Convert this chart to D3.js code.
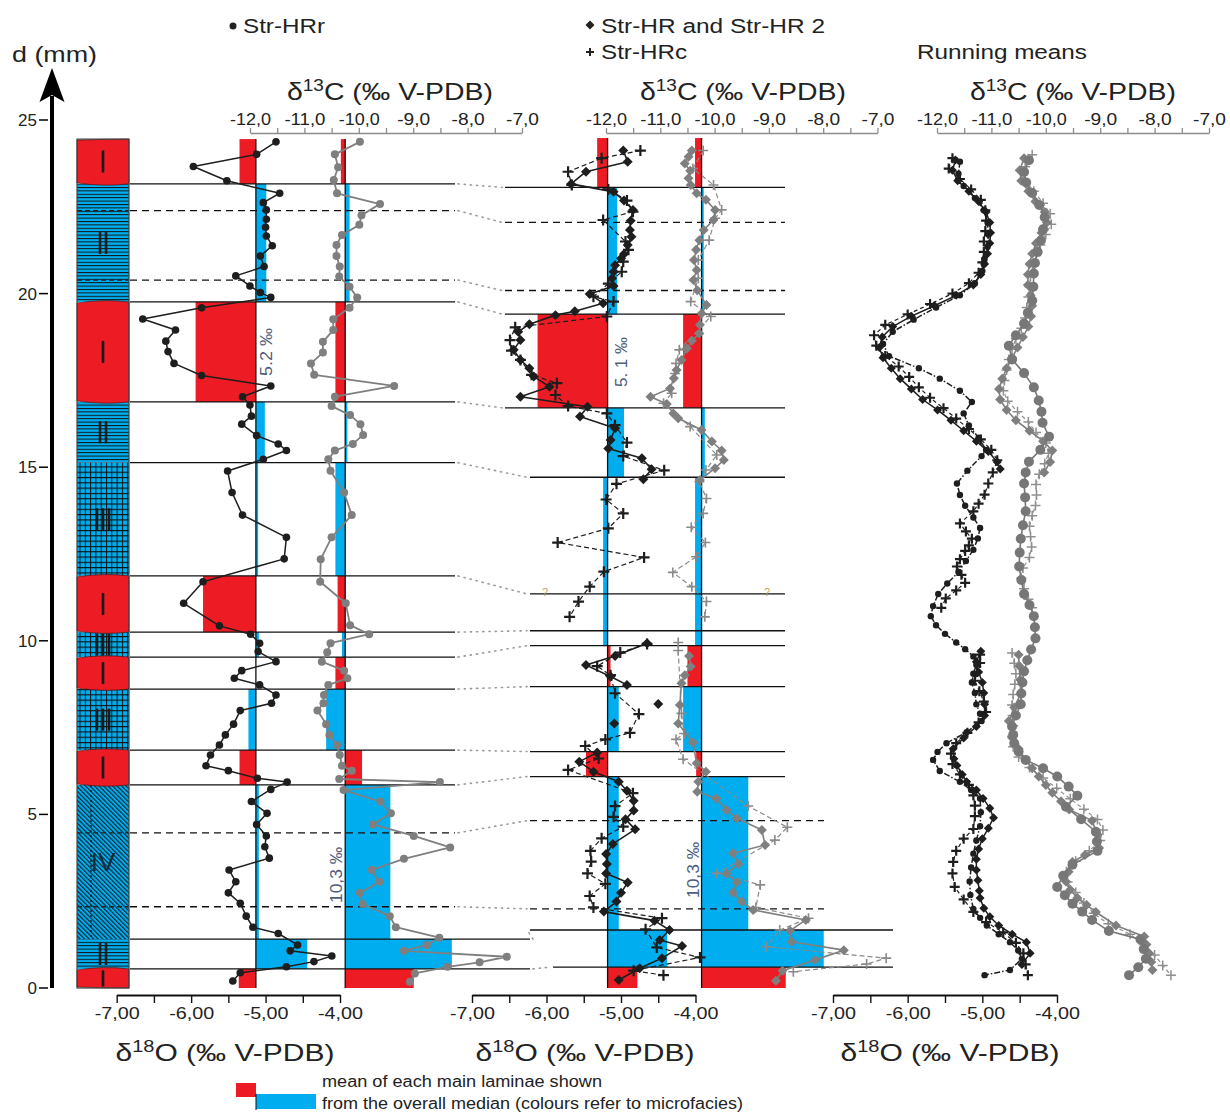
<!DOCTYPE html>
<html>
<head>
<meta charset="utf-8">
<script src="https://cdn.jsdelivr.net/npm/d3@7"></script>
<style>
  body { margin: 0; background: #fff; }
  svg text { font-family: 'Liberation Sans', Arial, sans-serif; }
</style>
</head>
<body>
<svg id="chart" width="1230" height="1115"></svg>
<script>
// Stable-isotope profiles of the laminated speleothem (depth in mm)

const depthTicks = [0, 5, 10, 15, 20, 25];
const o18Ticks = [-7, -6.5, -6, -5.5, -5, -4.5, -4];
const c13Ticks = [-12, -11.5, -11, -10.5, -10, -9.5, -9, -8.5, -8, -7.5, -7];

// microfacies column: [top, bottom, facies]
const microfacies = [[24.45,23.16,'I'],[23.16,19.76,'II'],[19.76,16.88,'I'],[16.88,15.13,'II'],[15.13,11.87,'III'],
  [11.87,10.25,'I'],[10.25,9.53,'III'],[9.53,8.61,'I'],[8.61,6.85,'III'],[6.85,5.85,'I'],[5.85,1.41,'IV'],[1.41,0.55,'II'],[0.55,0,'I']];

// lamina boundaries: [depth, 's' main / 'd' sub-lamina]
const p1Bounds = [[23.16,'s'],[22.39,'d'],[20.39,'d'],[19.76,'s'],[16.88,'s'],[15.13,'s'],[11.87,'s'],[10.25,'s'],
  [9.53,'s'],[8.61,'s'],[6.85,'s'],[5.85,'s'],[4.47,'d'],[2.34,'d'],[1.41,'s'],[0.55,'s']];
const p2Bounds = [[23.06,'s'],[22.05,'d'],[20.09,'d'],[19.41,'s'],[16.71,'s'],[14.71,'s'],[11.35,'s'],[10.29,'s'],
  [9.86,'s'],[8.68,'s'],[6.81,'s'],[6.09,'s'],[4.82,'d'],[2.28,'d'],[1.67,'s'],[0.60,'s']];

// laminae used for the mean bars and their deviation from the overall median
const p1Laminae = microfacies;
const p1MedO = -5.13, p1MedC = -10.25;
const p1DevO = [-0.22, 0.14, -0.81, 0.12, 0.03, -0.71, 0.04, 0.0, -0.10, -0.22, 0.04, 0.69, -0.23];
const p1DevC = [-0.08, 0.08, -0.18, 0.04, -0.18, -0.14, -0.06, -0.18, -0.35, 0.31, 0.83, 1.96, 1.26];
const p2Laminae = [[24.48,23.06,'I'],[23.06,19.41,'II'],[19.41,16.71,'I'],[16.71,14.71,'II'],[14.71,11.35,'III'],
  [11.35,10.29,'III'],[10.29,9.86,'III'],[9.86,8.68,'I'],[8.68,6.81,'III'],[6.81,6.09,'I'],[6.09,1.67,'IV'],[1.67,0.60,'II'],[0.60,0,'I']];
const p2MedO = -5.18, p2MedC = -10.24;
const p2DevO = [-0.14, 0.13, -0.94, 0.22, -0.06, -0.06, -0.06, 0.04, 0.15, -0.29, 0.15, 0.80, 0.40];
const p2DevC = [-0.12, 0.04, -0.34, 0.06, -0.12, -0.12, -0.12, -0.26, -0.34, -0.10, 0.86, 2.25, 1.55];

// Str-HRr: [depth, value]
const hrrO = [[24.37,-4.86],[24.01,-5.12],[23.66,-5.97],[23.25,-5.52],[22.89,-4.81],[22.62,-5.03],[22.41,-4.99],[22.14,-4.99],
  [21.91,-5.00],[21.66,-4.99],[21.38,-4.91],[21.08,-5.07],[20.78,-5.02],[20.51,-5.40],[20.22,-5.21],[20.03,-5.07],[19.89,-4.93],
  [19.59,-5.86],[19.27,-6.65],[18.95,-6.21],[18.63,-6.34],[18.33,-6.31],[17.99,-6.23],[17.64,-5.86],[17.34,-4.93],[17.03,-5.31],
  [16.79,-5.21],[16.47,-5.19],[16.24,-5.32],[15.91,-5.12],[15.67,-4.83],[15.48,-4.72],[15.23,-5.03],[14.89,-5.51],[14.27,-5.45],
  [13.62,-5.31],[12.98,-4.72],[12.36,-4.75],[11.70,-5.84],[11.08,-6.10],[10.43,-5.62],[10.19,-5.20],[9.93,-5.08],[9.69,-5.10],
  [9.40,-4.86],[9.14,-5.32],[8.92,-5.42],[8.73,-5.08],[8.44,-4.86],[8.20,-4.92],[7.99,-5.34],[7.60,-5.43],[7.29,-5.54],[7.00,-5.62],
  [6.71,-5.74],[6.40,-5.80],[6.26,-5.50],[6.04,-5.11],[5.93,-4.71],[5.72,-4.93],[5.37,-5.19],[5.03,-4.98],[4.71,-5.12],[4.38,-4.99],
  [4.07,-5.01],[3.74,-4.95],[3.40,-5.49],[3.06,-5.40],[2.74,-5.50],[2.44,-5.34],[2.07,-5.26],[1.75,-5.17],[1.57,-4.83],[1.24,-4.57],
  [1.07,-4.67],[0.92,-4.11],[0.76,-4.35],[0.61,-4.72],[0.44,-5.34],[0.20,-5.44]];
const hrrC = [[24.37,-9.98],[24.01,-10.44],[23.64,-10.38],[23.27,-10.46],[22.89,-10.40],[22.58,-9.61],[22.26,-9.95],[21.98,-9.99],
  [21.69,-10.31],[21.40,-10.41],[21.08,-10.41],[20.78,-10.35],[20.49,-10.36],[20.20,-10.17],[19.89,-10.03],[19.59,-10.17],
  [19.26,-10.47],[18.95,-10.47],[18.61,-10.66],[18.30,-10.66],[17.99,-10.88],[17.66,-10.82],[17.34,-9.35],[17.03,-10.44],
  [16.76,-10.50],[16.50,-10.16],[16.24,-9.97],[15.93,-9.92],[15.67,-10.11],[15.48,-10.44],[15.23,-10.56],[14.90,-10.52],
  [14.27,-10.27],[13.62,-10.13],[12.98,-10.50],[12.35,-10.70],[11.70,-10.71],[11.08,-10.24],[10.45,-10.16],[10.19,-9.81],
  [9.93,-10.52],[9.67,-10.58],[9.40,-10.68],[9.14,-10.27],[8.92,-10.21],[8.73,-10.56],[8.44,-10.64],[8.20,-10.65],[7.99,-10.76],
  [7.60,-10.60],[7.29,-10.54],[7.00,-10.40],[6.71,-10.35],[6.40,-10.31],[6.26,-10.13],[6.02,-10.36],[5.93,-8.51],[5.70,-10.28],
  [5.37,-9.60],[5.03,-9.41],[4.71,-9.74],[4.38,-8.99],[4.05,-8.32],[3.72,-9.17],[3.40,-9.76],[3.06,-9.62],[2.74,-9.98],[2.42,-9.93],
  [2.07,-9.43],[1.75,-9.32],[1.45,-8.52],[1.24,-8.75],[1.07,-9.17],[0.90,-7.28],[0.74,-7.78],[0.61,-8.37],[0.42,-8.97],[0.18,-9.06]];

// Str-HR and Str-HR 2 (diamonds), Str-HRc (crosses); null = gap in the record
const hrO = [[24.12,-4.97],[23.80,-4.91],[23.51,-5.47],[23.16,-5.67],[22.93,-5.10],[22.68,-4.96],[22.41,-4.84],[22.10,-4.87],
  [21.83,-4.88],[21.64,-4.86],[21.40,-4.91],[21.14,-4.96],[21.01,-5.00],[20.82,-5.08],[20.63,-5.10],[20.44,-5.12],[20.22,-5.10],
  [19.99,-5.42],[19.72,-5.24],[19.49,-5.62],[19.38,-5.88],[19.12,-6.23],[18.90,-6.38],[18.66,-6.35],[18.38,-6.44],[18.09,-6.35],
  [17.85,-6.23],[17.61,-6.17],[17.32,-5.96],[17.03,-6.35],[16.74,-5.45],[16.46,-5.55],[16.12,-5.08],[15.78,-5.14],[15.54,-5.17],
  [15.26,-4.72],[14.94,-4.59],[14.65,-4.70], null,
  [9.93,-4.65],[9.56,-5.08],[9.30,-5.47],[8.97,-5.14],[8.73,-4.92], null, [8.18,-4.50], null, [7.62,-5.09], null,
  [6.78,-5.32],[6.52,-5.56],[6.23,-5.37],[5.94,-5.03],[5.68,-4.92],[5.39,-4.83],[5.11,-4.83],[4.86,-4.94],[4.57,-4.81],[4.15,-5.11],
  [3.86,-5.20],[3.57,-5.19],[3.30,-5.20],[3.04,-4.91],[2.74,-5.00],[2.49,-5.06],[2.20,-5.23],[1.94,-4.55],[1.67,-4.35],[1.38,-4.48],
  [1.21,-4.18],[0.86,-4.45],[0.57,-4.75],[0.23,-5.03]];
const hrcO = [[24.12,-4.74],[23.90,-5.26],[23.51,-5.71],[23.13,-5.66],[23.00,-5.17],[22.68,-4.92],[22.36,-4.84],[22.12,-5.24],
  [21.50,-4.94],[21.26,-4.90],[20.92,-4.97],[20.63,-4.99],[20.29,-5.17],[19.91,-5.37],[19.77,-5.10],[19.34,-5.19],[19.03,-6.42],
  [18.66,-6.49],[18.36,-6.47],[18.09,-6.35],[17.66,-6.20],[17.42,-5.86],[17.08,-5.88],[16.76,-5.71],[16.55,-5.19],[16.21,-5.08],
  [15.71,-4.92],[15.32,-4.97],[14.91,-4.42],[14.52,-5.06],[14.07,-5.20],[13.67,-4.97],[13.24,-5.17],[12.83,-5.85],[12.40,-4.69],
  [11.99,-5.23],[11.56,-5.42],[11.13,-5.57],[10.69,-5.69], null,
  [9.91,-4.65],[9.66,-5.01],[9.27,-5.32],[9.01,-5.14],[8.49,-5.08],[7.89,-4.76],[7.35,-4.88],[7.16,-5.21],[6.97,-5.48],[6.61,-5.30],
  [6.28,-5.71],[5.61,-4.84],[5.24,-5.08],[4.93,-5.10],[4.65,-4.97],[4.31,-5.26],[3.95,-5.41],[3.64,-5.40],[3.30,-5.45],[3.00,-5.21],
  [2.65,-5.42],[2.32,-5.37],[2.01,-4.45],[1.69,-4.67],[1.17,-4.52],[0.88,-3.94],[0.50,-4.83],[0.37,-4.43]];
const hrC = [[24.12,-10.42],[23.94,-10.48],[23.75,-10.55],[23.54,-10.45],[23.32,-10.48],[23.13,-10.44],[22.89,-10.33],[22.70,-10.16],
  [22.41,-9.99],[22.12,-10.02],[21.83,-10.20],[21.54,-10.28],[21.26,-10.34],[20.97,-10.38],[20.68,-10.33],[20.39,-10.39],
  [20.10,-10.32],[19.67,-10.15],[19.43,-10.24],[19.10,-10.27],[18.85,-10.28],[18.64,-10.42],[18.42,-10.51],[18.09,-10.61],
  [17.80,-10.70],[17.56,-10.75],[17.27,-10.82],[17.03,-11.18],[16.82,-10.88],[16.55,-10.76],[16.41,-10.67],[16.07,-10.24],
  [15.74,-10.05],[15.48,-9.87],[15.21,-9.83],[14.97,-9.99],[14.63,-10.27], null,
  [9.56,-10.47],[9.26,-10.44],[9.01,-10.55],[8.78,-10.61],[8.15,-10.64],[7.62,-10.67],[7.07,-10.40],[6.47,-10.33],[6.23,-10.16],
  [5.94,-10.30],[5.65,-10.32],[5.46,-9.97],[5.13,-9.78],[4.89,-9.59],[4.55,-9.13],[4.12,-9.07],[3.88,-9.66],[3.57,-9.56],[3.30,-9.78],
  [3.04,-9.59],[2.74,-9.66],[2.49,-9.50],[2.25,-9.29],[1.96,-8.32],[1.65,-8.61],[1.33,-8.58],[1.09,-7.62],[0.81,-8.15],[0.50,-8.75],
  [0.21,-8.87]];
const hrcC = [[24.12,-10.21],[23.60,-10.40],[23.13,-10.02],[22.41,-9.87],[22.17,-9.99],[21.54,-10.10],[20.97,-10.30],[20.44,-10.30],
  [19.77,-10.44],[19.34,-10.07],[18.38,-10.65],[17.99,-10.71],[17.70,-10.73],[17.13,-10.79],[16.84,-10.94],[16.17,-10.45],
  [15.35,-9.96],[14.92,-10.16],[14.58,-10.28],[14.10,-10.15],[13.67,-10.21],[13.27,-10.43],[12.83,-10.17],[12.42,-10.34],
  [11.97,-10.77],[11.56,-10.42],[11.13,-10.15],[10.69,-10.18], null,
  [9.95,-10.67],[9.72,-10.67],[7.91,-10.61],[7.33,-10.56],[7.16,-10.71],[6.59,-10.58],[5.24,-9.38],[4.63,-8.66],[4.26,-8.89],
  [3.30,-9.96],[2.97,-9.16],[2.32,-9.24],[2.01,-8.27],[1.67,-8.80],[1.19,-9.05],[0.86,-6.84],[0.69,-7.20],[0.47,-8.55]];

// running means
const rmO_hrr = [[23.80,-5.30],[23.45,-5.32],[23.10,-5.25],[22.75,-5.10],[22.40,-4.98],[22.05,-4.93],[21.70,-4.92],[21.35,-4.93],
  [21.00,-4.97],[20.65,-5.00],[20.30,-5.10],[19.95,-5.30],[19.60,-5.62],[19.25,-5.92],[18.90,-6.20],[18.55,-6.33],[18.20,-6.25],
  [17.85,-5.85],[17.55,-5.57],[17.20,-5.30],[16.88,-5.14],[16.55,-5.25],[16.20,-5.18],[15.85,-5.05],[15.50,-4.95],[15.32,-5.01],
  [14.90,-5.20],[14.53,-5.34],[14.20,-5.30],[13.89,-5.23],[13.55,-5.12],[13.25,-5.03],[12.95,-5.06],[12.62,-5.12],[12.30,-5.22],
  [11.98,-5.32],[11.65,-5.47],[11.35,-5.59],[11.00,-5.66],[10.71,-5.69],[10.45,-5.62],[10.20,-5.50],[9.95,-5.35],[9.76,-5.23],
  [9.55,-5.12],[9.31,-5.08],[9.05,-5.12],[8.80,-5.14],[8.50,-5.10],[8.17,-5.08],[7.90,-5.03],[7.69,-5.01],[7.37,-5.21],[7.05,-5.48],
  [6.80,-5.60],[6.57,-5.66],[6.25,-5.57],[5.94,-5.30],[5.70,-5.15],[5.46,-5.03],[5.06,-5.02],[4.66,-5.03],[4.25,-5.08],[3.87,-5.12],
  [3.47,-5.15],[3.07,-5.17],[2.68,-5.16],[2.28,-5.12],[2.02,-5.03],[1.80,-4.94],[1.55,-4.78],[1.32,-4.63],[1.08,-4.52],[0.84,-4.47],
  [0.52,-4.63],[0.37,-4.97]];
const rmO_hr = [[23.85,-5.36],[23.55,-5.40],[23.25,-5.33],[22.95,-5.18],[22.65,-5.05],[22.35,-4.95],[22.05,-4.90],[21.75,-4.89],
  [21.45,-4.90],[21.15,-4.93],[20.85,-4.97],[20.55,-5.02],[20.25,-5.12],[19.95,-5.35],[19.65,-5.64],[19.35,-5.95],[19.05,-6.20],
  [18.75,-6.34],[18.45,-6.38],[18.15,-6.33],[17.85,-6.22],[17.55,-6.10],[17.25,-5.95],[16.95,-5.80],[16.65,-5.60],[16.35,-5.42],
  [16.05,-5.25],[15.75,-5.08],[15.45,-4.92],[15.15,-4.80],[14.95,-4.76], null,
  [9.70,-5.02],[9.40,-5.08],[9.10,-5.05],[8.80,-5.00],[8.50,-4.98],[8.17,-4.97],[7.85,-4.97],[7.53,-5.08],[7.20,-5.25],[6.89,-5.39],
  [6.60,-5.38],[6.41,-5.34],[6.15,-5.27],[5.94,-5.21],[5.70,-5.08],[5.46,-4.99],[5.18,-4.90],[4.90,-4.85],[4.60,-4.92],[4.30,-5.00],
  [4.00,-5.05],[3.71,-5.08],[3.40,-5.08],[3.10,-5.06],[2.80,-5.04],[2.59,-5.03],[2.30,-4.98],[2.05,-4.90],[1.80,-4.78],[1.55,-4.60],
  [1.32,-4.41],[1.00,-4.36],[0.68,-4.47]];
const rmO_hrc = [[23.90,-5.40],[23.60,-5.45],[23.30,-5.30],[23.00,-5.15],[22.70,-5.02],[22.40,-4.96],[22.10,-4.95],[21.80,-4.96],
  [21.50,-4.98],[21.20,-4.98],[20.90,-5.00],[20.60,-5.05],[20.30,-5.18],[20.00,-5.40],[19.70,-5.70],[19.40,-6.00],[19.10,-6.30],
  [18.80,-6.45],[18.50,-6.42],[18.20,-6.30],[17.90,-6.12],[17.60,-5.98],[17.30,-5.85],[17.00,-5.70],[16.70,-5.52],[16.40,-5.35],
  [16.10,-5.18],[15.80,-5.02],[15.50,-4.88],[15.20,-4.80],[14.85,-4.86],[14.53,-4.92],[14.21,-4.97],[13.95,-5.05],[13.73,-5.12],
  [13.38,-5.30],[13.15,-5.22],[12.94,-5.14],[12.75,-5.18],[12.59,-5.23],[12.35,-5.30],[12.14,-5.34],[11.90,-5.28],[11.67,-5.23],
  [11.45,-5.35],[11.22,-5.49],[10.95,-5.55], null,
  [9.60,-5.03],[9.36,-5.03],[9.10,-5.07],[8.85,-5.10],[8.55,-5.04],[8.25,-4.98],[7.95,-4.95],[7.65,-5.05],[7.35,-5.20],[7.05,-5.35],
  [6.75,-5.42],[6.45,-5.40],[6.15,-5.30],[5.85,-5.18],[5.55,-5.12],[5.25,-5.10],[4.95,-5.10],[4.58,-5.12],[4.30,-5.25],[3.95,-5.35],
  [3.63,-5.39],[3.30,-5.40],[2.91,-5.37],[2.55,-5.25],[2.19,-5.12],[1.90,-4.95],[1.60,-4.72],[1.30,-4.55],[1.00,-4.45],[0.68,-4.42],
  [0.37,-4.39]];
const rmC_hrr = [[23.84,-10.31],[23.50,-10.40],[23.20,-10.36],[22.90,-10.25],[22.55,-10.12],[22.20,-10.02],[21.85,-10.05],
  [21.53,-10.09],[21.20,-10.15],[20.88,-10.20],[20.58,-10.22],[20.20,-10.23],[19.80,-10.25],[19.45,-10.33],[19.14,-10.40],
  [18.80,-10.55],[18.50,-10.68],[18.10,-10.62],[17.71,-10.40],[17.30,-10.22],[16.92,-10.13],[16.60,-10.08],[16.28,-10.06],
  [15.88,-9.94],[15.50,-10.10],[15.16,-10.31],[14.85,-10.37],[14.53,-10.40],[14.13,-10.38],[13.73,-10.37],[13.33,-10.42],
  [12.94,-10.46],[12.54,-10.48],[12.14,-10.49],[11.75,-10.45],[11.35,-10.40],[11.03,-10.30],[10.71,-10.22],[10.39,-10.20],
  [10.07,-10.19],[9.75,-10.27],[9.44,-10.34],[9.12,-10.40],[8.80,-10.43],[8.48,-10.45],[8.17,-10.46],[7.85,-10.55],[7.53,-10.62],
  [7.29,-10.60],[7.05,-10.58],[6.81,-10.50],[6.57,-10.37],[6.33,-10.05],[6.09,-9.79],[5.80,-9.58],[5.54,-9.42],[5.22,-9.63],
  [4.86,-9.35],[4.50,-9.08],[4.22,-9.06],[3.95,-9.05],[3.55,-9.51],[3.23,-9.68],[2.91,-9.79],[2.67,-9.65],[2.43,-9.51],[2.20,-9.33],
  [1.96,-9.15],[1.64,-8.84],[1.40,-8.26],[1.12,-8.20],[0.84,-8.16],[0.60,-8.30],[0.37,-8.47]];
const rmC_hr = [[23.90,-10.40],[23.55,-10.48],[23.25,-10.45],[22.95,-10.32],[22.65,-10.19],[22.35,-10.02],[22.05,-9.98],
  [21.75,-10.08],[21.45,-10.18],[21.15,-10.25],[20.85,-10.30],[20.55,-10.33],[20.25,-10.33],[19.95,-10.28],[19.65,-10.25],
  [19.35,-10.27],[19.05,-10.32],[18.75,-10.42],[18.45,-10.52],[18.15,-10.62],[17.85,-10.72],[17.55,-10.80],[17.25,-10.86],
  [16.95,-10.84],[16.65,-10.72],[16.35,-10.55],[16.05,-10.30],[15.75,-10.05],[15.48,-9.88],[15.15,-9.92],[14.85,-10.03], null,
  [9.60,-10.50],[9.28,-10.49],[8.88,-10.47],[8.48,-10.46],[8.08,-10.58],[7.69,-10.68],[7.21,-10.62],[6.89,-10.50],[6.57,-10.37],
  [6.33,-10.25],[6.09,-10.13],[5.85,-10.00],[5.62,-9.88],[5.38,-9.72],[5.14,-9.57],[4.82,-9.15],[4.42,-9.05],[4.03,-9.02],
  [3.83,-9.28],[3.63,-9.51],[3.35,-9.58],[3.07,-9.63],[2.83,-9.55],[2.59,-9.42],[2.39,-9.25],[2.19,-9.08],[1.80,-8.71],[1.48,-8.19],
  [1.25,-8.15],[1.00,-8.10],[0.75,-8.06],[0.52,-8.04]];
const rmC_hrc = [[24.00,-10.25],[23.65,-10.38],[23.30,-10.40],[22.95,-10.22],[22.60,-10.05],[22.30,-9.92],[22.00,-9.90],
  [21.70,-10.00],[21.40,-10.10],[21.10,-10.18],[20.80,-10.24],[20.50,-10.28],[20.20,-10.30],[19.90,-10.32],[19.60,-10.35],
  [19.30,-10.38],[19.00,-10.45],[18.70,-10.55],[18.40,-10.62],[18.10,-10.68],[17.80,-10.72],[17.50,-10.76],[17.20,-10.78],
  [16.90,-10.70],[16.60,-10.52],[16.30,-10.32],[16.00,-10.18],[15.70,-10.00],[15.40,-9.95],[15.10,-10.02],[14.80,-10.12],
  [14.50,-10.18],[14.20,-10.17],[13.90,-10.19],[13.60,-10.25],[13.30,-10.30],[13.00,-10.28],[12.70,-10.26],[12.40,-10.30],
  [12.10,-10.42],[11.80,-10.45],[11.50,-10.40],[11.20,-10.32],[10.95,-10.25], null,
  [9.65,-10.62],[9.35,-10.58],[9.05,-10.55],[8.75,-10.57],[8.45,-10.60],[8.15,-10.62],[7.85,-10.61],[7.55,-10.60],[7.25,-10.62],
  [6.95,-10.60],[6.65,-10.50],[6.35,-10.30],[6.05,-10.05],[5.75,-9.80],[5.45,-9.55],[5.15,-9.30],[4.85,-9.05],[4.55,-8.95],
  [4.25,-9.00],[3.95,-9.20],[3.65,-9.45],[3.35,-9.62],[3.05,-9.60],[2.75,-9.45],[2.45,-9.30],[2.15,-9.12],[1.85,-8.85],[1.55,-8.45],
  [1.25,-8.20],[0.95,-8.00],[0.65,-7.85],[0.37,-7.70]];

// ---------------------------------------------------------------------------

const RED = '#ed1c24', BLUE = '#00aeef', INK = '#1e1e1e', GREY = '#7f7f7f';
const svg = d3.select('#chart');
const y = d3.scaleLinear().domain([0, 25]).range([988, 120]);

const p1O = d3.scaleLinear().domain([-7, -4]).range([116.7, 340]);
const p1C = d3.scaleLinear().domain([-12, -7]).range([250, 522]);
const p2O = d3.scaleLinear().domain([-7, -4]).range([472, 695.5]);
const p2C = d3.scaleLinear().domain([-12, -7]).range([606, 877.5]);
const p3O = d3.scaleLinear().domain([-7, -4]).range([833, 1057]);
const p3C = d3.scaleLinear().domain([-12, -7]).range([937, 1209]);

// the original lettering is a little wider than Arial, so stretch text to the measured widths
const stretch = (sel, w) => sel.attr('textLength', w).attr('lengthAdjust', 'spacingAndGlyphs');

// patterns for the microfacies
const defs = svg.append('defs');
const fII = defs.append('pattern').attr('id', 'fII').attr('patternUnits', 'userSpaceOnUse').attr('width', 6).attr('height', 3.4);
fII.append('rect').attr('width', 6).attr('height', 3.4).attr('fill', BLUE);
fII.append('line').attr('x1', 0).attr('x2', 6).attr('y1', 0.5).attr('y2', 0.5).attr('stroke', '#111').attr('stroke-width', 1);
const fIII = defs.append('pattern').attr('id', 'fIII').attr('patternUnits', 'userSpaceOnUse').attr('width', 5.3).attr('height', 5.3);
fIII.append('rect').attr('width', 5.3).attr('height', 5.3).attr('fill', BLUE);
fIII.append('path').attr('d', 'M0,0.5H5.3M0.5,0V5.3').attr('stroke', '#111').attr('stroke-width', 1);
const fIV = defs.append('pattern').attr('id', 'fIV').attr('patternUnits', 'userSpaceOnUse').attr('width', 3.2).attr('height', 3.2)
  .attr('patternTransform', 'rotate(-45)');
fIV.append('rect').attr('width', 3.2).attr('height', 3.2).attr('fill', BLUE);
fIV.append('line').attr('x1', 0.6).attr('x2', 0.6).attr('y1', 0).attr('y2', 3.2).attr('stroke', '#0f2a3a').attr('stroke-width', 1.3);

// ---------------- depth axis ----------------
const ax = svg.append('g');
ax.append('line').attr('x1', 52).attr('x2', 52).attr('y1', y(0)).attr('y2', 96).attr('stroke', '#000').attr('stroke-width', 4);
ax.append('path').attr('d', 'M52,68L39.5,102L52,95L64.5,102Z').attr('fill', '#000');
ax.selectAll('.dt').data(depthTicks).join('line')
  .attr('x1', 39).attr('x2', 48).attr('y1', d => y(d)).attr('y2', d => y(d)).attr('stroke', '#000').attr('stroke-width', 1.5);
ax.selectAll('.dl').data(depthTicks).join('text')
  .attr('x', 37).attr('y', d => y(d) + 6).attr('text-anchor', 'end').attr('font-size', 17).attr('fill', '#222')
  .text(d => d);
stretch(ax.append('text').attr('x', 12).attr('y', 62).attr('font-size', 22).attr('fill', '#222').text('d (mm)'), 85);

// ---------------- microfacies column ----------------
const colX0 = 77, colX1 = 129, colXc = 103;
const col = svg.append('g');
const fill = f => f === 'II' ? 'url(#fII)' : f === 'III' ? 'url(#fIII)' : 'url(#fIV)';
col.selectAll('.blue').data(microfacies.filter(m => m[2] !== 'I')).join('rect')
  .attr('x', colX0).attr('width', colX1 - colX0)
  .attr('y', d => y(d[0])).attr('height', d => y(d[1]) - y(d[0])).attr('fill', d => fill(d[2]));
// sub-lamina dashes inside the column
col.selectAll('.cd').data(p1Bounds.filter(b => b[1] === 'd')).join('line')
  .attr('x1', colX0).attr('x2', colX1).attr('y1', d => y(d[0])).attr('y2', d => y(d[0]))
  .attr('stroke', '#222').attr('stroke-width', 1.3).attr('stroke-dasharray', '5,3');
col.append('line').attr('x1', 91).attr('x2', 91).attr('y1', y(5.85)).attr('y2', y(1.41))
  .attr('stroke', '#111').attr('stroke-width', 1.2).attr('stroke-dasharray', '2,3');
// red laminae with slightly curved contacts
col.selectAll('.red').data(microfacies.filter(m => m[2] === 'I')).join('path')
  .attr('d', d => {
    const t = y(d[0]), b = y(d[1]);
    const bt = d[0] > 24 ? 0 : 3, bb = d[1] < 0.1 ? 0 : 3;
    return `M${colX0},${t + 1}Q${colXc},${t - bt} ${colX1},${t}L${colX1},${b}Q${colXc},${b + bb} ${colX0},${b - 1}Z`;
  })
  .attr('fill', RED).attr('stroke', '#4a1515').attr('stroke-width', 0.7);
col.append('rect').attr('x', colX0).attr('y', y(24.45)).attr('width', colX1 - colX0).attr('height', y(0) - y(24.45))
  .attr('fill', 'none').attr('stroke', '#444').attr('stroke-width', 1.2);
// roman numerals
microfacies.forEach(m => {
  const t = y(m[0]), b = y(m[1]), yc = (t + b) / 2;
  const h = Math.min(22, b - t - 3);
  if (m[2] === 'IV') {
    col.append('text').attr('x', colXc).attr('y', yc + 9).attr('text-anchor', 'middle')
      .attr('font-size', 26).attr('fill', '#1a2a3a').text('IV');
    return;
  }
  const n = m[2].length;
  for (let i = 0; i < n; i++) {
    col.append('rect').attr('x', colXc + (i - (n - 1) / 2) * 6 - 1.3).attr('y', yc - h / 2)
      .attr('width', 2.6).attr('height', h).attr('fill', '#1a1a1a');
  }
});

// ---------------- helpers ----------------
function drawBars(g, laminae, devs, med, xs) {
  g.selectAll(null).data(laminae.map((l, i) => ({ t: l[0], b: l[1], f: l[2], v: devs[i] }))).join('rect')
    .attr('x', d => Math.min(xs(med), xs(med + d.v)))
    .attr('width', d => Math.abs(xs(med + d.v) - xs(med)))
    .attr('y', d => y(d.t)).attr('height', d => y(d.b) - y(d.t))
    .attr('fill', d => d.f === 'I' ? RED : BLUE);
  g.append('line').attr('x1', xs(med)).attr('x2', xs(med)).attr('y1', y(laminae[0][0])).attr('y2', y(0))
    .attr('stroke', '#111').attr('stroke-width', 1.3);
}

const diamond = s => `M0,${-s}L${s},0L0,${s}L${-s},0Z`;
const cross = s => `M${-s},0H${s}M0,${-s}V${s}`;

function drawSeries(g, data, xs, o) {
  const line = d3.line().defined(d => d !== null).x(d => xs(d[1])).y(d => y(d[0]));
  g.append('path').datum(data).attr('d', line).attr('fill', 'none')
    .attr('stroke', o.color).attr('stroke-width', o.lw || 1.5).attr('stroke-dasharray', o.dash || null)
    .attr('stroke-linejoin', 'round');
  const pts = data.filter(d => d !== null);
  const sel = g.selectAll(null).data(pts);
  if (o.marker === 'circle') {
    sel.join('circle').attr('cx', d => xs(d[1])).attr('cy', d => y(d[0])).attr('r', o.size).attr('fill', o.color);
  } else if (o.marker === 'diamond') {
    sel.join('path').attr('d', diamond(o.size)).attr('transform', d => `translate(${xs(d[1])},${y(d[0])})`).attr('fill', o.color);
  } else {
    sel.join('path').attr('d', cross(o.size)).attr('transform', d => `translate(${xs(d[1])},${y(d[0])})`)
      .attr('stroke', o.color).attr('stroke-width', o.cw || 2).attr('fill', 'none');
  }
}

const fmt1 = v => Number.isInteger(v) ? v.toFixed(1).replace('.', ',') : '';
const fmt2 = v => Number.isInteger(v) ? v.toFixed(2).replace('.', ',') : '';

function topAxis(xs, cx) {
  const g = svg.append('g').attr('transform', 'translate(0,133)')
    .call(d3.axisTop(xs).tickValues(c13Ticks).tickFormat(fmt1).tickSize(5).tickSizeOuter(0).tickPadding(3));
  g.select('.domain').attr('stroke', '#8c8c8c').attr('stroke-width', 1.6);
  g.selectAll('.tick line').attr('stroke', '#8c8c8c').attr('stroke-width', 1.3);
  const lab = g.selectAll('.tick text').attr('font-size', 17).attr('fill', '#222').filter(v => Number.isInteger(v));
  lab.each(function (v) { stretch(d3.select(this), v <= -10 ? 41 : 33); });
  const t = svg.append('text').attr('x', cx).attr('y', 100).attr('text-anchor', 'middle').attr('font-size', 24).attr('fill', '#222');
  t.append('tspan').text('δ');
  t.append('tspan').attr('font-size', 16).attr('dy', -9).text('13');
  t.append('tspan').attr('dy', 9).text('C (‰ V-PDB)');
  stretch(t, 206);
}
function bottomAxis(xs, cx) {
  const g = svg.append('g').attr('transform', 'translate(0,995)')
    .call(d3.axisBottom(xs).tickValues(o18Ticks).tickFormat(fmt2).tickSize(8).tickSizeOuter(0).tickPadding(4));
  g.select('.domain').attr('stroke', '#111').attr('stroke-width', 2.2);
  g.selectAll('.tick line').attr('stroke', '#111').attr('stroke-width', 1.4);
  const lab = g.selectAll('.tick text').attr('font-size', 17).attr('fill', '#222').filter(v => Number.isInteger(v));
  stretch(lab, 45);
  const t = svg.append('text').attr('x', cx).attr('y', 1061).attr('text-anchor', 'middle').attr('font-size', 24).attr('fill', '#222');
  t.append('tspan').text('δ');
  t.append('tspan').attr('font-size', 16).attr('dy', -9).text('18');
  t.append('tspan').attr('dy', 9).text('O (‰ V-PDB)');
  stretch(t, 219);
}
function rotLabel(x, yc, txt, w) {
  stretch(svg.append('text').attr('transform', `translate(${x},${yc}) rotate(-90)`).attr('text-anchor', 'middle')
    .attr('font-size', 16).attr('fill', '#4f5d7a').text(txt), w);
}

// ---------------- panel 1 : Str-HRr ----------------
const g1 = svg.append('g');
drawBars(g1, p1Laminae, p1DevO, p1MedO, p1O);
drawBars(g1, p1Laminae, p1DevC, p1MedC, p1C);

// ---------------- panel 2 : Str-HR, Str-HR 2, Str-HRc ----------------
const g2 = svg.append('g');
drawBars(g2, p2Laminae, p2DevO, p2MedO, p2O);
drawBars(g2, p2Laminae, p2DevC, p2MedC, p2C);

// lamina boundaries and correlation
const p1End = d => d < 1.5 ? 530 : 455;
const p2Start = d => d > 15 ? 505 : d > 1.5 ? 530 : 553;
const p2End = (d, k) => d < 1.7 ? 893 : (k === 'd' && d < 5) ? 824 : 785;
const lines = svg.append('g');
p1Bounds.forEach((b, i) => {
  const b2 = p2Bounds[i];
  lines.append('line').attr('x1', 130).attr('x2', p1End(b[0])).attr('y1', y(b[0])).attr('y2', y(b[0]))
    .attr('stroke', '#111').attr('stroke-width', 1.3).attr('stroke-dasharray', b[1] === 'd' ? '7,5' : null);
  lines.append('line').attr('x1', p2Start(b2[0])).attr('x2', p2End(b2[0], b2[1])).attr('y1', y(b2[0])).attr('y2', y(b2[0]))
    .attr('stroke', '#111').attr('stroke-width', 1.3).attr('stroke-dasharray', b2[1] === 'd' ? '7,5' : null);
  lines.append('line').attr('x1', p1End(b[0]) + 3).attr('x2', p2Start(b2[0]) - 3).attr('y1', y(b[0])).attr('y2', y(b2[0]))
    .attr('stroke', '#9a9a9a').attr('stroke-width', 1.6).attr('stroke-dasharray', '1.2,5').attr('stroke-linecap', 'round');
});
svg.append('text').attr('x', 545).attr('y', y(11.35) + 2).attr('font-size', 11).attr('fill', '#c9a26a').attr('text-anchor', 'middle').text('?');
svg.append('text').attr('x', 767).attr('y', y(11.35) + 2).attr('font-size', 11).attr('fill', '#c9a26a').attr('text-anchor', 'middle').text('?');

rotLabel(272, 352, '5.2 ‰', 48);
rotLabel(342, 875, '10,3 ‰', 56);
rotLabel(627, 362, '5. 1 ‰', 50);
rotLabel(699, 870, '10,3 ‰', 56);

const s1 = svg.append('g');
drawSeries(s1, hrrC, p1C, { color: GREY, marker: 'circle', size: 4, lw: 1.8 });
drawSeries(s1, hrrO, p1O, { color: INK, marker: 'circle', size: 3.8, lw: 1.5 });

const s2 = svg.append('g');
drawSeries(s2, hrcC, p2C, { color: '#8a8a8a', marker: 'cross', size: 5, dash: '5,3', lw: 1.2, cw: 1.6 });
drawSeries(s2, hrC, p2C, { color: GREY, marker: 'diamond', size: 5, lw: 1.6 });
drawSeries(s2, hrcO, p2O, { color: INK, marker: 'cross', size: 5.5, dash: '5,3', lw: 1.2, cw: 2.2 });
drawSeries(s2, hrO, p2O, { color: INK, marker: 'diamond', size: 5, lw: 1.6 });

// ---------------- panel 3 : running means ----------------
const s3 = svg.append('g');
drawSeries(s3, rmC_hrc, p3C, { color: '#8f8f8f', marker: 'cross', size: 5, dash: '4,3', lw: 1.2, cw: 1.5 });
drawSeries(s3, rmC_hr, p3C, { color: GREY, marker: 'diamond', size: 5, lw: 1.6 });
drawSeries(s3, rmC_hrr, p3C, { color: '#777', marker: 'circle', size: 5, lw: 1.6 });
drawSeries(s3, rmO_hrc, p3O, { color: INK, marker: 'cross', size: 5, dash: '4,3', lw: 1.2, cw: 2.2 });
drawSeries(s3, rmO_hr, p3O, { color: INK, marker: 'diamond', size: 4.5, lw: 1.5 });
drawSeries(s3, rmO_hrr, p3O, { color: INK, marker: 'circle', size: 3.2, lw: 1.5, dash: '6,2,1.5,2' });

// ---------------- axes ----------------
topAxis(p1C, 390);
topAxis(p2C, 743);
topAxis(p3C, 1073);
bottomAxis(p1O, 225);
bottomAxis(p2O, 585);
bottomAxis(p3O, 950);

// ---------------- legends ----------------
const lg = svg.append('g').attr('fill', '#222');
lg.append('circle').attr('cx', 233).attr('cy', 26).attr('r', 3.5);
stretch(lg.append('text').attr('x', 243).attr('y', 33).attr('font-size', 20).text('Str-HRr'), 82);
lg.append('path').attr('d', diamond(4.5)).attr('transform', 'translate(590,25)');
stretch(lg.append('text').attr('x', 601).attr('y', 33).attr('font-size', 20).text('Str-HR and Str-HR 2'), 224);
lg.append('path').attr('d', cross(4)).attr('transform', 'translate(590,52)').attr('stroke', '#222').attr('stroke-width', 2);
stretch(lg.append('text').attr('x', 601).attr('y', 59).attr('font-size', 20).text('Str-HRc'), 86);
stretch(lg.append('text').attr('x', 917).attr('y', 59).attr('font-size', 20).text('Running means'), 170);

lg.append('rect').attr('x', 236).attr('y', 1083).attr('width', 20).attr('height', 14).attr('fill', RED);
lg.append('rect').attr('x', 256).attr('y', 1094).attr('width', 60).attr('height', 15).attr('fill', BLUE);
lg.append('line').attr('x1', 256).attr('x2', 256).attr('y1', 1094).attr('y2', 1110).attr('stroke', '#111').attr('stroke-width', 1);
stretch(lg.append('text').attr('x', 322).attr('y', 1087).attr('font-size', 16).text('mean of each main laminae shown'), 280);
stretch(lg.append('text').attr('x', 322).attr('y', 1109).attr('font-size', 16)
  .text('from the overall median (colours refer to microfacies)'), 421);
</script>
</body>
</html>
